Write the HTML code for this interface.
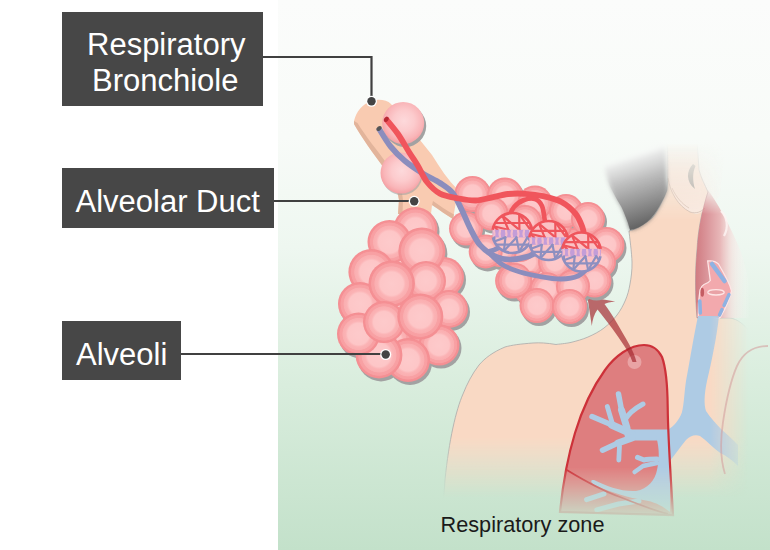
<!DOCTYPE html>
<html>
<head>
<meta charset="utf-8">
<style>
html,body{margin:0;padding:0;width:770px;height:550px;overflow:hidden;background:#fff;}
body{position:relative;font-family:"Liberation Sans",sans-serif;}
.panel{position:absolute;left:278px;top:0;width:492px;height:550px;
 background:linear-gradient(to bottom,#fbfcfb 0%,#f8fbf8 25%,#eef7f0 45%,#d9eddd 70%,#c3e1ca 100%);}
.box{position:absolute;background:#474747;color:#fff;font-size:31px;}
.box span{position:absolute;white-space:nowrap;line-height:1;}
svg{position:absolute;left:0;top:0;}
.zone{position:absolute;left:440.5px;top:514px;font-size:21.7px;color:#1a1a1a;white-space:nowrap;line-height:1;}
</style>
</head>
<body>
<div class="panel"></div>
<svg width="770" height="550" viewBox="0 0 770 550">

<defs>
 <radialGradient id="alv" cx="0.5" cy="0.5" r="0.5">
  <stop offset="0" stop-color="#fdcacb"/>
  <stop offset="0.5" stop-color="#fdc6c7"/>
  <stop offset="0.6" stop-color="#fbb3b5"/>
  <stop offset="0.73" stop-color="#faaeb0"/>
  <stop offset="0.76" stop-color="#f8a1a4"/>
  <stop offset="0.87" stop-color="#f89fa2"/>
  <stop offset="0.9" stop-color="#f59195"/>
  <stop offset="1" stop-color="#f48d91"/>
 </radialGradient>
 <radialGradient id="alv2" cx="0.52" cy="0.45" r="0.55">
  <stop offset="0" stop-color="#fdd9db"/>
  <stop offset="0.45" stop-color="#fccbcd"/>
  <stop offset="0.8" stop-color="#f9b5b8"/>
  <stop offset="0.92" stop-color="#f7a8ab"/>
  <stop offset="1" stop-color="#f5a0a4"/>
 </radialGradient>
 <filter id="hblur" x="-20%" y="-20%" width="140%" height="140%"><feGaussianBlur stdDeviation="2.2"/></filter>
 <linearGradient id="hmaskG" gradientUnits="userSpaceOnUse" x1="0" y1="178" x2="0" y2="200">
  <stop offset="0" stop-color="#000"/>
  <stop offset="1" stop-color="#fff"/>
 </linearGradient>
 <mask id="hmask" maskUnits="userSpaceOnUse" x="0" y="0" width="770" height="550">
  <rect x="0" y="0" width="770" height="550" fill="url(#hmaskG)"/>
 </mask>
 <linearGradient id="hair" gradientUnits="userSpaceOnUse" x1="617" y1="157" x2="641" y2="230">
  <stop offset="0" stop-color="#ffffff" stop-opacity="0"/>
  <stop offset="0.12" stop-color="#e4e4e4" stop-opacity="0.85"/>
  <stop offset="0.35" stop-color="#c0c0c0"/>
  <stop offset="0.6" stop-color="#9a9a9a"/>
  <stop offset="0.85" stop-color="#747474"/>
  <stop offset="1" stop-color="#5c5c5c"/>
 </linearGradient>
 <linearGradient id="vfadeG" x1="0" y1="0" x2="0" y2="1">
  <stop offset="0" stop-color="#fff"/>
  <stop offset="0.85" stop-color="#fff"/>
  <stop offset="0.95" stop-color="#000"/>
 </linearGradient>
 <mask id="vfade" maskUnits="userSpaceOnUse" x="0" y="0" width="770" height="550">
  <rect x="0" y="0" width="770" height="550" fill="url(#vfadeG)"/>
 </mask>
 <linearGradient id="vfadeBG" x1="0" y1="0" x2="0" y2="1">
  <stop offset="0" stop-color="#fff"/>
  <stop offset="0.795" stop-color="#fff"/>
  <stop offset="0.905" stop-color="#000"/>
 </linearGradient>
 <mask id="vfadeB" maskUnits="userSpaceOnUse" x="0" y="0" width="770" height="550">
  <rect x="0" y="0" width="770" height="550" fill="url(#vfadeBG)"/>
 </mask>
 <linearGradient id="tfadeG" x1="0" y1="0" x2="0" y2="1">
  <stop offset="0" stop-color="#000"/>
  <stop offset="0.26" stop-color="#000"/>
  <stop offset="0.40" stop-color="#fff"/>
 </linearGradient>
 <mask id="tfade" maskUnits="userSpaceOnUse" x="0" y="0" width="770" height="550">
  <rect x="0" y="0" width="770" height="550" fill="url(#tfadeG)"/>
 </mask>
 <linearGradient id="pfadeG" x1="0" y1="0" x2="0" y2="1">
  <stop offset="0" stop-color="#000"/>
  <stop offset="0.2" stop-color="#fff"/>
 </linearGradient>
 <mask id="pfade" maskUnits="userSpaceOnUse" x="0" y="0" width="770" height="550">
  <rect x="690" y="188" width="80" height="130" fill="url(#pfadeG)"/>
 </mask>
 <linearGradient id="phar" x1="0" y1="0" x2="1" y2="0">
  <stop offset="0" stop-color="#d07b81"/>
  <stop offset="0.2" stop-color="#da9499"/>
  <stop offset="0.45" stop-color="#e8b7b8"/>
  <stop offset="0.68" stop-color="#f5e0de" stop-opacity="0.6"/>
  <stop offset="1" stop-color="#ffffff" stop-opacity="0"/>
 </linearGradient>
 <linearGradient id="earG" x1="0" y1="0" x2="1" y2="0">
  <stop offset="0" stop-color="#f7e8df"/>
  <stop offset="0.55" stop-color="#f8ebe3"/>
  <stop offset="1" stop-color="#fbf5f1" stop-opacity="0"/>
 </linearGradient>
 <linearGradient id="hfadeG" gradientUnits="userSpaceOnUse" x1="710" y1="0" x2="748" y2="0">
  <stop offset="0" stop-color="#fff"/>
  <stop offset="1" stop-color="#000"/>
 </linearGradient>
 <mask id="hfade" maskUnits="userSpaceOnUse" x="0" y="0" width="770" height="550">
  <rect x="0" y="0" width="770" height="550" fill="url(#hfadeG)"/>
 </mask>
</defs>

<g mask="url(#hfade)"><g mask="url(#tfade)"><g mask="url(#vfadeB)">
<path d="M770,550 L770,370 C758,340 745,320 730,318 L697,318 C695,295 695,270 697,250 C698,230 702,210 708,192 C705,185 701,178 699,170 L697,140 L667,140 C668,160 668,180 667,190 C663,200 658,211 652,218 C642,226 636,229 629,231 C629.5,236.2 631.8,253.2 632,262 C632.2,270.8 631.1,277.7 630,284 C628.9,290.3 627.7,294.8 625.5,300 C623.3,305.2 620.6,310.3 617,315 C613.4,319.7 608.8,324.3 604,328 C599.2,331.7 593.5,334.6 588,337 C582.5,339.4 576.3,341.1 571,342.4 C565.7,343.6 558.5,344.1 556,344.5 C547,343 540,342.5 533,343 C520,344 512,345 505,347 C493,352 485,358 479,365 C472,374 467,384 463,394 C456,410 449,440 445,480 L440,550 Z" fill="#f9d9c4" stroke="#a9a9a9" stroke-width="0.8"/>
</g></g></g>
<g mask="url(#tfade)">
<path d="M664,120 C664,160 666,178 671,190 C676,203 686,212 696,214 C704,213 712,205 720,196 L728,120 Z" fill="url(#earG)"/>
<path d="M668,178 C670,192 678,206 690,212 C696,214 701,212 705,208" fill="none" stroke="#c9b6aa" stroke-width="0.7"/>
<path d="M672,188 C676,197 682,204 689,208" fill="none" stroke="#c9b6aa" stroke-width="0.6"/>
<path d="M693,164 C686,171 686,182 695,189 C692.5,181 692.5,172 695.5,166 Z" fill="#a2a8a8"/>
</g>
<path d="M708,190 C702,210 698,230 697,250 C695,270 695,295 697,318 L750,318 C752,295 748,268 738,245 C728,222 718,204 708,190 Z" fill="url(#phar)" mask="url(#pfade)"/>
<path d="M721,211 C727,217 729,227 724,236" fill="none" stroke="#fdf3f2" stroke-width="2.2" opacity="0.85"/>
<path d="M707.7,261 C712,260.5 716,261.5 718.5,264 C722,270 727,279 730,286 L731.5,291 C729.5,300 724.5,310 720.5,317 L718.5,318.5 L698.2,316.5 C698,305 699,296 700,290 C701,287 702,285.5 704,284.5 C707,283.5 709,282.5 710.3,280.5 C709.3,273 708.3,266 707.7,261 Z" fill="#f2a9ad" stroke="#fde6e6" stroke-width="1.3"/>
<g stroke="#8fb2e2" stroke-linecap="round" fill="none"><path d="M712,264 L724.5,281" stroke-width="4.5"/><path d="M699.8,301 L700.3,313" stroke-width="3.6"/><path d="M729,294.5 L724,305.5" stroke-width="3.4"/><path d="M722,309.5 L719.5,315" stroke-width="3.4"/></g>
<ellipse cx="702.3" cy="292.3" rx="1.8" ry="4.5" fill="#c45c62"/>
<ellipse cx="716" cy="292.3" rx="8.2" ry="2.7" fill="#e9a2a6" stroke="#fde6e6" stroke-width="1.3"/>
<g mask="url(#hfade)"><g mask="url(#vfade)">
<path d="M698,316 L719,316 C717,335 712,360 707,381 C704,395 704,405 706,411 C710,417 716,424 722,430 C728,435 733,440 738,445 L738,466 C733,461 727,456 720,452.7 C712,447 706,440 700,436 C695,434 690,436 686,440 C680,447 675,455 669,462 L664,462 L664,429 L669,429 C674,426 679,420 681.8,412.7 C684,405 684,395 686,381 C689,365 693,340 698,316 Z" fill="#aecbe4"/>
<clipPath id="lungclip"><path d="M644,345 C630,345 615,356 605,370 C592,388 582,410 575,433 C568,456 563,482 560,512 L673,515 C671,480 668,440 667.7,407 C667.5,385 666,368 662,357 C658,349 652,345 644,345 Z"/></clipPath>
<path d="M644,345 C630,345 615,356 605,370 C592,388 582,410 575,433 C568,456 563,482 560,512 L673,515 C671,480 668,440 667.7,407 C667.5,385 666,368 662,357 C658,349 652,345 644,345 Z" fill="#de7e7f"/>
<g clip-path="url(#lungclip)" stroke="#aecbe4" stroke-linecap="round" stroke-linejoin="round" fill="none">
<path d="M670,435 L630,435" stroke-width="11"/>
<path d="M632,434 L612,425" stroke-width="7.5"/>
<path d="M612,425 L592,416.5" stroke-width="5.5"/>
<path d="M627,428 L621.5,410" stroke-width="7"/>
<path d="M621.5,410 L618.5,394" stroke-width="5.5"/>
<path d="M612.5,424 L609.5,414 L607.3,406.5" stroke-width="4.8"/>
<path d="M625,420 C628,414 634,409 643,404" stroke-width="5"/>
<path d="M632,438 L618,443" stroke-width="7"/>
<path d="M618,443 L602.5,450.2" stroke-width="5.5"/>
<path d="M619.5,446 L618.8,460" stroke-width="4.8"/>
<path d="M657,459 C652,459 648,459 644,460 L637.5,457.4" stroke-width="5"/>
<path d="M657,463 C652,464 647,465 643,466 L634.6,472" stroke-width="4.5"/>
<path d="M586.6,499.6 L604,493.8" stroke-width="5"/>
<path d="M596.8,509.8 L618.6,504 L639,501" stroke-width="5"/>
<path d="M670,436 L670,512 C662,506 656,502 643,500 C630,498 612,493 596,485.5 C590,483 590,479.5 594,480 C606,486 622,492 636,491 C648,489 655,480 657,470 C659,460 660,450 656,436 Z" fill="#aecbe4" stroke="none"/>
</g>
<path d="M644,345 C630,345 615,356 605,370 C592,388 582,410 575,433 C568,456 563,482 560,512 L673,515 C671,480 668,440 667.7,407 C667.5,385 666,368 662,357 C658,349 652,345 644,345 Z" fill="none" stroke="#cd3139" stroke-width="2.2"/>
<path d="M566.8,470 C580,478 600,490 620,497 C640,505 655,511 668,514" fill="none" stroke="#cd3139" stroke-width="1.8"/>
<circle cx="634.5" cy="362" r="7" fill="#eeb4b4" opacity="0.7"/>
</g></g>
<path d="M768,346 C754,346 743,353 737,366 C730,382 726,402 723,422 C720,442 720,458 725,474" fill="none" stroke="#d49c9c" stroke-width="1.8" opacity="0.55" mask="url(#vfade)"/>
<g filter="url(#hblur)"><path d="M598,135 C601,150 604,164 606,174 C608,181 610,187 613,192 C616,198 619,203 621.5,207 C624,212 626,218 628,223 L630,230 C636,229 642,226 647,222 C652,218 656,212 659,207 C663,200 666,194 667,190 C667,175 666,158 664,135 Z" fill="url(#hair)"/></g><g mask="url(#hmask)"><path d="M598,135 C601,150 604,164 606,174 C608,181 610,187 613,192 C616,198 619,203 621.5,207 C624,212 626,218 628,223 L630,230 C636,229 642,226 647,222 C652,218 656,212 659,207 C663,200 666,194 667,190 C667,175 666,158 664,135 Z" fill="url(#hair)"/></g>
<path d="M587.4,296.8 L615.2,301.4 C610,302 606.5,302.8 604.5,304 C612,314 620,328 629,344 C633,351 635,356 636.5,362 L632.5,362 C630,355 627,350 624,345.5 C618,336 607,321 597.5,309.5 C594,314 592.5,320 591.8,325.9 Z" fill="#a3262e" opacity="0.68"/>
<path d="M354,121 C356,112 362,104 372,100.5 C380,99 387,100 391,104 L432,155 C440,168 448,180 458,190 L453,219 C446,215 440,210 432,205 L431,214 L398,214 L399,200 C398,190 392,180 384,168 C372,152 362,138 354,124 Z" fill="#f9cbb1"/>
<path d="M354,121 L354,124 C362,138 372,152 384,168 C392,180 398,190 399,200 L398,214 L402.5,214 L403,200 C402,188 396,177 388,165 C377,150 366,137 357.5,123 Z" fill="#e2b49b"/>
<path d="M432,205 C440,210 446,215 453,219 L454,214.5 C446,210 440,206 433,201 Z" fill="#e2b49b"/>
<g>
<circle cx="407" cy="303" r="22" fill="#a2a2a2" />
<circle cx="402" cy="263" r="22" fill="#a2a2a2" />
<circle cx="392" cy="343" r="22" fill="#a2a2a2" />
<circle cx="432" cy="333" r="20" fill="#a2a2a2" />
<circle cx="417.5" cy="232" r="22" fill="#a2a2a2" />
<circle cx="446" cy="280" r="20" fill="#a2a2a2" />
<circle cx="391.5" cy="245" r="22" fill="#a2a2a2" />
<circle cx="423.9" cy="254" r="23.5" fill="#a2a2a2" />
<circle cx="373.4" cy="275" r="23" fill="#a2a2a2" />
<circle cx="428" cy="284" r="20" fill="#a2a2a2" />
<circle cx="451" cy="312" r="19" fill="#a2a2a2" />
<circle cx="362" cy="307" r="22" fill="#a2a2a2" />
<circle cx="393.7" cy="286.7" r="23.2" fill="#a2a2a2" />
<circle cx="441" cy="348" r="20.5" fill="#a2a2a2" />
<circle cx="410" cy="363" r="22" fill="#a2a2a2" />
<circle cx="381" cy="358" r="23.4" fill="#a2a2a2" />
<circle cx="360.5" cy="337" r="21.5" fill="#a2a2a2" />
<circle cx="386" cy="325" r="21" fill="#a2a2a2" />
<circle cx="422.3" cy="319.5" r="23" fill="#a2a2a2" />
<circle cx="405" cy="300" r="22" fill="url(#alv)" />
<circle cx="400" cy="260" r="22" fill="url(#alv)" />
<circle cx="390" cy="340" r="22" fill="url(#alv)" />
<circle cx="430" cy="330" r="20" fill="url(#alv)" />
<circle cx="415.5" cy="229" r="22" fill="url(#alv)" />
<circle cx="444" cy="277" r="20" fill="url(#alv)" />
<circle cx="389.5" cy="242" r="22" fill="url(#alv)" />
<circle cx="421.9" cy="251" r="23.5" fill="url(#alv)" />
<circle cx="371.4" cy="272" r="23" fill="url(#alv)" />
<circle cx="426" cy="281" r="20" fill="url(#alv)" />
<circle cx="449" cy="309" r="19" fill="url(#alv)" />
<circle cx="360" cy="304" r="22" fill="url(#alv)" />
<circle cx="391.7" cy="283.7" r="23.2" fill="url(#alv)" />
<circle cx="439" cy="345" r="20.5" fill="url(#alv)" />
<circle cx="408" cy="360" r="22" fill="url(#alv)" />
<circle cx="379" cy="355" r="23.4" fill="url(#alv)" />
<circle cx="358.5" cy="334" r="21.5" fill="url(#alv)" />
<circle cx="384" cy="322" r="21" fill="url(#alv)" />
<circle cx="420.3" cy="316.5" r="23" fill="url(#alv)" />
</g>
<circle cx="405.2" cy="126" r="21" fill="#a2a2a2" />
<circle cx="402" cy="174.5" r="20.5" fill="#a2a2a2" opacity="0.6"/>
<circle cx="403.2" cy="123" r="21" fill="url(#alv2)" />
<circle cx="401" cy="173" r="20.5" fill="url(#alv2)" />
<circle cx="547" cy="269" r="17" fill="#a2a2a2" />
<circle cx="529" cy="265" r="17" fill="#a2a2a2" />
<circle cx="567" cy="271" r="17" fill="#a2a2a2" />
<circle cx="522" cy="248" r="17" fill="#a2a2a2" />
<circle cx="557" cy="265" r="17" fill="#a2a2a2" />
<circle cx="542" cy="233" r="17" fill="#a2a2a2" />
<circle cx="577" cy="248" r="17" fill="#a2a2a2" />
<circle cx="532" cy="291" r="17" fill="#a2a2a2" />
<circle cx="502" cy="253" r="17" fill="#a2a2a2" />
<circle cx="557" cy="228" r="17" fill="#a2a2a2" />
<circle cx="474.5" cy="197" r="18" fill="#a2a2a2" />
<circle cx="507" cy="198.5" r="18" fill="#a2a2a2" />
<circle cx="537" cy="206" r="17.5" fill="#a2a2a2" />
<circle cx="568" cy="214" r="17" fill="#a2a2a2" />
<circle cx="590" cy="222" r="17" fill="#a2a2a2" />
<circle cx="468" cy="231.5" r="17" fill="#a2a2a2" />
<circle cx="493.5" cy="216.6" r="17" fill="#a2a2a2" />
<circle cx="527" cy="225" r="17" fill="#a2a2a2" />
<circle cx="608.5" cy="248" r="18" fill="#a2a2a2" />
<circle cx="602" cy="265" r="16" fill="#a2a2a2" />
<circle cx="487.7" cy="254.4" r="17" fill="#a2a2a2" />
<circle cx="514.6" cy="284" r="17.5" fill="#a2a2a2" />
<circle cx="596.5" cy="283.5" r="17" fill="#a2a2a2" />
<circle cx="516.8" cy="283.5" r="17.5" fill="#a2a2a2" />
<circle cx="548.8" cy="292.2" r="17" fill="#a2a2a2" />
<circle cx="575" cy="289.3" r="17" fill="#a2a2a2" />
<circle cx="539" cy="308.5" r="17.5" fill="#a2a2a2" />
<circle cx="571.5" cy="309.5" r="17.5" fill="#a2a2a2" />
<circle cx="545" cy="266" r="17" fill="url(#alv)" />
<circle cx="527" cy="262" r="17" fill="url(#alv)" />
<circle cx="565" cy="268" r="17" fill="url(#alv)" />
<circle cx="520" cy="245" r="17" fill="url(#alv)" />
<circle cx="555" cy="262" r="17" fill="url(#alv)" />
<circle cx="540" cy="230" r="17" fill="url(#alv)" />
<circle cx="575" cy="245" r="17" fill="url(#alv)" />
<circle cx="530" cy="288" r="17" fill="url(#alv)" />
<circle cx="500" cy="250" r="17" fill="url(#alv)" />
<circle cx="555" cy="225" r="17" fill="url(#alv)" />
<circle cx="472.5" cy="194" r="18" fill="url(#alv)" />
<circle cx="505" cy="195.5" r="18" fill="url(#alv)" />
<circle cx="535" cy="203" r="17.5" fill="url(#alv)" />
<circle cx="566" cy="211" r="17" fill="url(#alv)" />
<circle cx="588" cy="219" r="17" fill="url(#alv)" />
<circle cx="466" cy="228.5" r="17" fill="url(#alv)" />
<circle cx="491.5" cy="213.6" r="17" fill="url(#alv)" />
<circle cx="525" cy="222" r="17" fill="url(#alv)" />
<circle cx="606.5" cy="245" r="18" fill="url(#alv)" />
<circle cx="600" cy="262" r="16" fill="url(#alv)" />
<circle cx="485.7" cy="251.4" r="17" fill="url(#alv)" />
<circle cx="512.6" cy="281" r="17.5" fill="url(#alv)" />
<circle cx="594.5" cy="280.5" r="17" fill="url(#alv)" />
<circle cx="514.8" cy="280.5" r="17.5" fill="url(#alv)" />
<circle cx="546.8" cy="289.2" r="17" fill="url(#alv)" />
<circle cx="573" cy="286.3" r="17" fill="url(#alv)" />
<circle cx="537" cy="305.5" r="17.5" fill="url(#alv)" />
<circle cx="569.5" cy="306.5" r="17.5" fill="url(#alv)" />
<g fill="none" stroke-linecap="butt">
<path d="M378.6,128 C380.6,131.1 386.1,140.9 390.5,146.4 C394.9,151.9 399.6,156.5 405,161 C410.4,165.5 417.2,169.9 423,173.6 C428.8,177.3 435.1,179.8 440,183 C444.9,186.2 449.1,188.5 452.7,193 C456.3,197.5 458.9,204.2 461.8,210 C464.7,215.8 467.0,222.2 470,228 C473.0,233.8 475.9,240.3 480,245 C484.1,249.7 489.7,253.6 494.5,256 C499.3,258.4 503.6,259.4 509,259.5 C514.4,259.6 521.7,258.4 527,256.8 C532.3,255.2 538.7,251.1 541,250" stroke="#8b8dbd" stroke-width="5.7"/>
<path d="M490,254 C492.2,255.8 498.0,262.0 503,265 C508.0,268.0 513.8,270.1 520,272 C526.2,273.9 533.2,275.3 540,276.5 C546.8,277.7 554.7,279.1 561,279 C567.3,278.9 573.2,278.2 578,276 C582.8,273.8 588.0,267.7 590,266" stroke="#8b8dbd" stroke-width="4.8"/>
<path d="M486,252 C487.3,251.7 491.3,251.0 494,250 C496.7,249.0 500.7,246.7 502,246" stroke="#8b8dbd" stroke-width="4.8"/>
<path d="M386,119 C388.0,121.5 394.2,128.5 398,134 C401.8,139.5 405.7,146.7 409,152 C412.3,157.3 415.0,161.0 418,166 C421.0,171.0 423.3,177.4 427,182 C430.7,186.6 434.7,190.8 440,193.6 C445.3,196.3 453.0,197.3 459,198.5 C465.0,199.7 470.5,200.7 476,200.5 C481.5,200.3 486.7,198.5 492,197.4 C497.3,196.3 502.5,194.6 508,194 C513.5,193.4 519.2,193.4 525,193.8 C530.8,194.2 536.9,194.8 543,196.2 C549.1,197.6 556.1,199.1 561.5,202 C566.9,204.9 572.0,209.4 575.5,213.7 C579.0,217.9 581.1,223.8 582.5,227.5 C583.9,231.2 583.8,234.6 584,236" stroke="#f0555c" stroke-width="5.8"/>
<path d="M509,217 C509.8,215.3 511.5,209.8 514,207 C516.5,204.2 520.5,201.3 524,200 C527.5,198.7 532.0,198.0 535,199 C538.0,200.0 540.3,202.2 542,206 C543.7,209.8 544.5,219.3 545,222" stroke="#f0555c" stroke-width="4.6"/>
</g>
<ellipse cx="386.3" cy="119.3" rx="2.9" ry="2.1" transform="rotate(-55 386.3 119.3)" fill="#b82a33"/>
<ellipse cx="379" cy="128.5" rx="2.9" ry="2" transform="rotate(-35 379 128.5)" fill="#555"/>
<clipPath id="sp1"><circle cx="512.4" cy="233" r="20"/></clipPath>
<circle cx="512.4" cy="233" r="20" fill="#fbc2c5"/>
<g clip-path="url(#sp1)" fill="none" stroke-linecap="round">
<line x1="493.6" y1="226.2" x2="497.4" y2="229.8" stroke="#ef555c" stroke-width="2.2"/>
<line x1="493.6" y1="226.2" x2="508.4" y2="229.8" stroke="#ef555c" stroke-width="2.2"/>
<line x1="502.4" y1="215.7" x2="508.4" y2="229.8" stroke="#ef555c" stroke-width="2.2"/>
<line x1="502.4" y1="215.7" x2="519.4" y2="229.8" stroke="#ef555c" stroke-width="2.2"/>
<line x1="519.2" y1="214.2" x2="519.4" y2="229.8" stroke="#ef555c" stroke-width="2.2"/>
<line x1="519.2" y1="214.2" x2="530.4" y2="229.8" stroke="#ef555c" stroke-width="2.2"/>
<line x1="530.5" y1="224.5" x2="530.4" y2="229.8" stroke="#ef555c" stroke-width="2.2"/>
<line x1="492.4" y1="223.0" x2="532.4" y2="223.0" stroke="#ef555c" stroke-width="2.2"/>
<rect x="492.4" y="229.8" width="40" height="7.599999999999994" fill="#c39dd8"/>
<path d="M494.0,230.8 Q494.9,233.6 494.0,236.4" stroke="#f4bccb" stroke-width="2.2"/>
<path d="M500.0,230.8 Q499.1,233.6 500.0,236.4" stroke="#f4bccb" stroke-width="2.2"/>
<path d="M506.0,230.8 Q506.9,233.6 506.0,236.4" stroke="#f4bccb" stroke-width="2.2"/>
<path d="M512.0,230.8 Q511.1,233.6 512.0,236.4" stroke="#f4bccb" stroke-width="2.2"/>
<path d="M518.0,230.8 Q518.9,233.6 518.0,236.4" stroke="#f4bccb" stroke-width="2.2"/>
<path d="M524.0,230.8 Q523.1,233.6 524.0,236.4" stroke="#f4bccb" stroke-width="2.2"/>
<path d="M530.0,230.8 Q530.9,233.6 530.0,236.4" stroke="#f4bccb" stroke-width="2.2"/>
<line x1="494.4" y1="237.4" x2="494.3" y2="241.5" stroke="#8d8fc0" stroke-width="2.2"/>
<line x1="505.4" y1="237.4" x2="494.3" y2="241.5" stroke="#8d8fc0" stroke-width="2.2"/>
<line x1="505.4" y1="237.4" x2="503.9" y2="251.1" stroke="#8d8fc0" stroke-width="2.2"/>
<line x1="516.4" y1="237.4" x2="503.9" y2="251.1" stroke="#8d8fc0" stroke-width="2.2"/>
<line x1="516.4" y1="237.4" x2="519.2" y2="251.8" stroke="#8d8fc0" stroke-width="2.2"/>
<line x1="527.4" y1="237.4" x2="519.2" y2="251.8" stroke="#8d8fc0" stroke-width="2.2"/>
<line x1="527.4" y1="237.4" x2="530.5" y2="241.5" stroke="#8d8fc0" stroke-width="2.2"/>
<line x1="492.4" y1="244.6" x2="532.4" y2="244.6" stroke="#8d8fc0" stroke-width="2.2"/>
</g>
<path d="M492.66,229.80 A20,20 0 0 1 532.14,229.80" stroke="#ef555c" stroke-width="2.6" fill="none"/>
<path d="M531.91,237.40 A20,20 0 0 1 492.89,237.40" stroke="#8d8fc0" stroke-width="2.6" fill="none"/>
<clipPath id="sp2"><circle cx="548.6" cy="240.5" r="19.5"/></clipPath>
<circle cx="548.6" cy="240.5" r="19.5" fill="#fbc2c5"/>
<g clip-path="url(#sp2)" fill="none" stroke-linecap="round">
<line x1="530.3" y1="233.8" x2="534.0" y2="237.4" stroke="#ef555c" stroke-width="2.2"/>
<line x1="530.3" y1="233.8" x2="544.7" y2="237.4" stroke="#ef555c" stroke-width="2.2"/>
<line x1="538.9" y1="223.6" x2="544.7" y2="237.4" stroke="#ef555c" stroke-width="2.2"/>
<line x1="538.9" y1="223.6" x2="555.4" y2="237.4" stroke="#ef555c" stroke-width="2.2"/>
<line x1="555.3" y1="222.2" x2="555.4" y2="237.4" stroke="#ef555c" stroke-width="2.2"/>
<line x1="555.3" y1="222.2" x2="566.1" y2="237.4" stroke="#ef555c" stroke-width="2.2"/>
<line x1="566.3" y1="232.3" x2="566.1" y2="237.4" stroke="#ef555c" stroke-width="2.2"/>
<line x1="529.1" y1="230.8" x2="568.1" y2="230.8" stroke="#ef555c" stroke-width="2.2"/>
<rect x="529.1" y="237.38" width="39.0" height="7.409999999999997" fill="#c39dd8"/>
<path d="M530.7,238.4 Q531.6,241.1 530.7,243.8" stroke="#f4bccb" stroke-width="2.2"/>
<path d="M536.5,238.4 Q535.6,241.1 536.5,243.8" stroke="#f4bccb" stroke-width="2.2"/>
<path d="M542.4,238.4 Q543.3,241.1 542.4,243.8" stroke="#f4bccb" stroke-width="2.2"/>
<path d="M548.2,238.4 Q547.3,241.1 548.2,243.8" stroke="#f4bccb" stroke-width="2.2"/>
<path d="M554.1,238.4 Q555.0,241.1 554.1,243.8" stroke="#f4bccb" stroke-width="2.2"/>
<path d="M559.9,238.4 Q559.0,241.1 559.9,243.8" stroke="#f4bccb" stroke-width="2.2"/>
<path d="M565.8,238.4 Q566.7,241.1 565.8,243.8" stroke="#f4bccb" stroke-width="2.2"/>
<line x1="531.1" y1="244.8" x2="530.9" y2="248.7" stroke="#8d8fc0" stroke-width="2.2"/>
<line x1="541.8" y1="244.8" x2="530.9" y2="248.7" stroke="#8d8fc0" stroke-width="2.2"/>
<line x1="541.8" y1="244.8" x2="540.4" y2="258.2" stroke="#8d8fc0" stroke-width="2.2"/>
<line x1="552.5" y1="244.8" x2="540.4" y2="258.2" stroke="#8d8fc0" stroke-width="2.2"/>
<line x1="552.5" y1="244.8" x2="555.3" y2="258.8" stroke="#8d8fc0" stroke-width="2.2"/>
<line x1="563.2" y1="244.8" x2="555.3" y2="258.8" stroke="#8d8fc0" stroke-width="2.2"/>
<line x1="563.2" y1="244.8" x2="566.3" y2="248.7" stroke="#8d8fc0" stroke-width="2.2"/>
<line x1="529.1" y1="251.8" x2="568.1" y2="251.8" stroke="#8d8fc0" stroke-width="2.2"/>
</g>
<path d="M529.35,237.38 A19.5,19.5 0 0 1 567.85,237.38" stroke="#ef555c" stroke-width="2.6" fill="none"/>
<path d="M567.62,244.79 A19.5,19.5 0 0 1 529.58,244.79" stroke="#8d8fc0" stroke-width="2.6" fill="none"/>
<clipPath id="sp3"><circle cx="581.5" cy="252" r="19.5"/></clipPath>
<circle cx="581.5" cy="252" r="19.5" fill="#fbc2c5"/>
<g clip-path="url(#sp3)" fill="none" stroke-linecap="round">
<line x1="563.2" y1="245.3" x2="566.9" y2="248.9" stroke="#ef555c" stroke-width="2.2"/>
<line x1="563.2" y1="245.3" x2="577.6" y2="248.9" stroke="#ef555c" stroke-width="2.2"/>
<line x1="571.8" y1="235.1" x2="577.6" y2="248.9" stroke="#ef555c" stroke-width="2.2"/>
<line x1="571.8" y1="235.1" x2="588.3" y2="248.9" stroke="#ef555c" stroke-width="2.2"/>
<line x1="588.2" y1="233.7" x2="588.3" y2="248.9" stroke="#ef555c" stroke-width="2.2"/>
<line x1="588.2" y1="233.7" x2="599.0" y2="248.9" stroke="#ef555c" stroke-width="2.2"/>
<line x1="599.2" y1="243.8" x2="599.0" y2="248.9" stroke="#ef555c" stroke-width="2.2"/>
<line x1="562.0" y1="242.2" x2="601.0" y2="242.2" stroke="#ef555c" stroke-width="2.2"/>
<rect x="562.0" y="248.88" width="39.0" height="7.410000000000025" fill="#c39dd8"/>
<path d="M563.6,249.9 Q564.5,252.6 563.6,255.3" stroke="#f4bccb" stroke-width="2.2"/>
<path d="M569.4,249.9 Q568.5,252.6 569.4,255.3" stroke="#f4bccb" stroke-width="2.2"/>
<path d="M575.3,249.9 Q576.2,252.6 575.3,255.3" stroke="#f4bccb" stroke-width="2.2"/>
<path d="M581.1,249.9 Q580.2,252.6 581.1,255.3" stroke="#f4bccb" stroke-width="2.2"/>
<path d="M587.0,249.9 Q587.9,252.6 587.0,255.3" stroke="#f4bccb" stroke-width="2.2"/>
<path d="M592.8,249.9 Q591.9,252.6 592.8,255.3" stroke="#f4bccb" stroke-width="2.2"/>
<path d="M598.7,249.9 Q599.6,252.6 598.7,255.3" stroke="#f4bccb" stroke-width="2.2"/>
<line x1="564.0" y1="256.3" x2="563.8" y2="260.2" stroke="#8d8fc0" stroke-width="2.2"/>
<line x1="574.7" y1="256.3" x2="563.8" y2="260.2" stroke="#8d8fc0" stroke-width="2.2"/>
<line x1="574.7" y1="256.3" x2="573.3" y2="269.7" stroke="#8d8fc0" stroke-width="2.2"/>
<line x1="585.4" y1="256.3" x2="573.3" y2="269.7" stroke="#8d8fc0" stroke-width="2.2"/>
<line x1="585.4" y1="256.3" x2="588.2" y2="270.3" stroke="#8d8fc0" stroke-width="2.2"/>
<line x1="596.1" y1="256.3" x2="588.2" y2="270.3" stroke="#8d8fc0" stroke-width="2.2"/>
<line x1="596.1" y1="256.3" x2="599.2" y2="260.2" stroke="#8d8fc0" stroke-width="2.2"/>
<line x1="562.0" y1="263.3" x2="601.0" y2="263.3" stroke="#8d8fc0" stroke-width="2.2"/>
</g>
<path d="M562.25,248.88 A19.5,19.5 0 0 1 600.75,248.88" stroke="#ef555c" stroke-width="2.6" fill="none"/>
<path d="M600.52,256.29 A19.5,19.5 0 0 1 562.48,256.29" stroke="#8d8fc0" stroke-width="2.6" fill="none"/>
<g stroke="#404040" stroke-width="2.2" fill="none">
<path d="M263,57 H371.5 V101"/>
<path d="M274,201 H414"/>
<path d="M181,354 H386"/>
</g>
<circle cx="371.5" cy="101.3" r="5.5" fill="#fff"/><circle cx="371.5" cy="101.3" r="4.2" fill="#444"/>
<circle cx="414.2" cy="201.3" r="5.5" fill="#fff"/><circle cx="414.2" cy="201.3" r="4.2" fill="#444"/>
<circle cx="385.7" cy="354.5" r="5.5" fill="#fff"/><circle cx="385.7" cy="354.5" r="4.2" fill="#444"/>
</svg>
<div class="box" style="left:62px;top:12px;width:201px;height:94px;">
 <span style="left:25px;top:17px;">Respiratory</span>
 <span style="left:30px;top:53px;">Bronchiole</span>
</div>
<div class="box" style="left:62px;top:168px;width:212px;height:60px;">
 <span style="left:13.5px;top:18px;">Alveolar Duct</span>
</div>
<div class="box" style="left:62px;top:321px;width:119px;height:59px;">
 <span style="left:14px;top:18px;">Alveoli</span>
</div>
<div class="zone">Respiratory zone</div>
</body>
</html>
